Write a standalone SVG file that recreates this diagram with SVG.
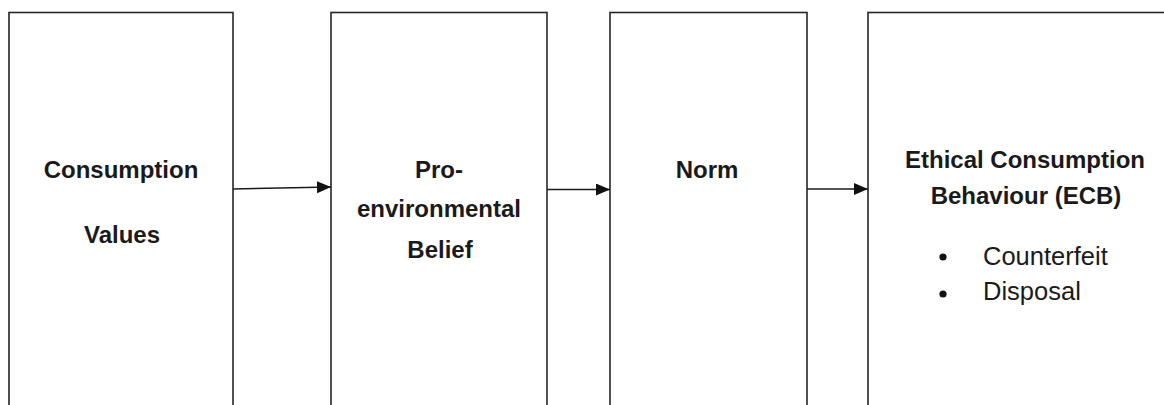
<svg xmlns="http://www.w3.org/2000/svg" width="1164" height="405" viewBox="0 0 1164 405">
<defs>
<style>
.box{fill:#fff;stroke:#262626;stroke-width:1.6}
.lbl{font-family:"Liberation Sans",Arial,sans-serif;font-weight:bold;font-size:24px;fill:#1a1a1a;text-anchor:middle}
.item{font-family:"Liberation Sans",Arial,sans-serif;font-size:25.5px;fill:#1a1a1a}
.conn{stroke:#1a1a1a;stroke-width:1.6;fill:none}
</style>
<marker id="ah" markerWidth="14" markerHeight="12" refX="14" refY="6" orient="auto" markerUnits="userSpaceOnUse">
<path d="M0,0 L14,6 L0,12 Z" fill="#111"/>
</marker>
</defs>
<rect width="1164" height="405" fill="#fff"/>
<g id="node-consumption-values">
<rect class="box" x="9" y="12.5" width="224" height="420"/>
<text class="lbl" x="121" y="178">Consumption</text>
<text class="lbl" x="122" y="243">Values</text>
</g>
<g id="node-pro-environmental-belief">
<rect class="box" x="331" y="12.5" width="216" height="420"/>
<text class="lbl" x="439" y="178">Pro-</text>
<text class="lbl" x="439" y="217">environmental</text>
<text class="lbl" x="440" y="258">Belief</text>
</g>
<g id="node-norm">
<rect class="box" x="610" y="12.5" width="197" height="420"/>
<text class="lbl" x="707" y="178">Norm</text>
</g>
<g id="node-ecb">
<rect class="box" x="868" y="12.5" width="320" height="420"/>
<text class="lbl" x="1025" y="168">Ethical Consumption</text>
<text class="lbl" x="1026" y="204">Behaviour (ECB)</text>
<circle cx="943" cy="257" r="3.6" fill="#111"/>
<text class="item" x="983" y="265">Counterfeit</text>
<circle cx="943" cy="294" r="3.6" fill="#111"/>
<text class="item" x="983" y="300">Disposal</text>
</g>
<g id="connectors">
<line class="conn" x1="233" y1="189" x2="331" y2="187" marker-end="url(#ah)"/>
<line class="conn" x1="547" y1="189.5" x2="610" y2="189.5" marker-end="url(#ah)"/>
<line class="conn" x1="807" y1="189" x2="868" y2="189" marker-end="url(#ah)"/>
</g>
</svg>
